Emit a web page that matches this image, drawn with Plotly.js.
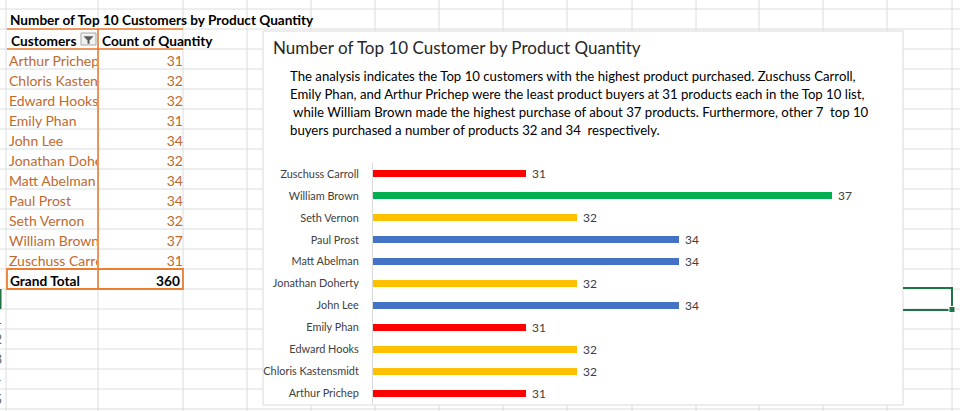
<!DOCTYPE html>
<html>
<head>
<meta charset="utf-8">
<script src="https://cdn.plot.ly/plotly-3.0.1.min.js"></script>
<style>html,body{margin:0;padding:0;background:#fff;}#chart{width:960px;height:411px;}</style>
</head>
<body>
<div id="chart"></div>
<script>
// ---------- data ----------
const customers = ['Arthur Prichep','Chloris Kastensmidt','Edward Hooks','Emily Phan','John Lee','Jonathan Doherty','Matt Abelman','Paul Prost','Seth Vernon','William Brown','Zuschuss Carroll'];
const quantities = [31,32,32,31,34,32,34,34,32,37,31];
const tableTitle = 'Number of Top 10 Customers by Product Quantity';
const tableHeaders = ['Customers','Count of Quantity'];
const totalLabel = 'Grand Total';
const chartTitle = 'Number of Top 10 Customer by Product Quantity';
const noteLines = [
  'The analysis indicates the Top 10 customers with the highest product purchased. Zuschuss Carroll,',
  'Emily Phan, and Arthur Prichep were the least product buyers at 31 products each in the Top 10 list,',
  '\u00a0while William Brown made the highest purchase of about 37 products. Furthermore, other 7\u00a0 top 10',
  'buyers purchased a number of products 32 and 34\u00a0 respectively.'
];
const rowNumbers = [20,21,22,23,24,25];

// ---------- helpers ----------
const W = 960, H = 411;
const px = v => v / W;
const py = v => 1 - v / H;
const FONT = 'Lato, "Open Sans", sans-serif';
const colorFor = {31:'#FF0000', 32:'#FFC000', 34:'#4472C4', 37:'#00B050'};
const ORANGE = '#ED7D31';
const GRID = '#DADCDD';

function line(x0,y0,x1,y1,color,width){
  return {type:'line', xref:'paper', yref:'paper', x0:px(x0), y0:py(y0), x1:px(x1), y1:py(y1),
          line:{color:color, width:width||1}, layer:'below'};
}
function rect(x0,y0,x1,y1,fill,lineColor,lw){
  return {type:'rect', xref:'paper', yref:'paper', x0:px(x0), y0:py(y0), x1:px(x1), y1:py(y1),
          fillcolor:fill, line:{color:lineColor||'rgba(0,0,0,0)', width:lw===undefined?1:lw}, layer:'below'};
}
function path(points, fill, lineColor, lw, closed){
  const d = points.map((p,i)=>(i?'L':'M')+px(p[0])+','+py(p[1])).join(' ') + (closed?' Z':'');
  return {type:'path', xref:'paper', yref:'paper', path:d, fillcolor:fill||'rgba(0,0,0,0)',
          line:{color:lineColor||'rgba(0,0,0,0)', width:lw||0}, layer:'below'};
}

// ---------- spreadsheet backdrop ----------
const shapes = [];
const colLines = [6,98,183,247,311,375,439,503,567,632,696,759,823,887,952];
const rowTop = 9, rowH = 20;
for (let k = 0; k <= 20; k++) shapes.push(line(0, rowTop + k*rowH, W, rowTop + k*rowH, GRID, 1));
colLines.forEach(x => shapes.push(line(x, 0, x, H, GRID, 1)));

// pivot table borders
shapes.push(line(7, 29, 183, 29, ORANGE, 1.6));
shapes.push(line(7, 49, 183, 49, ORANGE, 1.6));
shapes.push(line(98, 29, 98, 289, ORANGE, 1.6));
shapes.push(rect(7, 269, 183, 289, 'rgba(0,0,0,0)', ORANGE, 1.8));
// filter button
shapes.push(rect(81, 33, 96, 45, '#F2F2F2', '#A6A6A6', 1));
shapes.push(path([[84,36.5],[93,36.5],[89.3,40.5],[89.3,43.5],[87.8,43.5],[87.8,40.5]], '#595959', '#595959', 0.5, true));

// chart box
shapes.push(rect(263, 31, 903, 405, '#FFFFFF', '#D9D9D9', 1));

// selected cell
shapes.push(path([[903,288],[952,288],[952,310],[903,310]], 'rgba(0,0,0,0)', '#217346', 2, false));
shapes.push(rect(949, 306.5, 955, 312.5, '#217346', '#FFFFFF', 1));
shapes.push(line(0.5, 289, 0.5, 309, '#217346', 2));

// ---------- annotations ----------
const annotations = [];
// row numbers (mostly clipped by the left edge, as in the sheet)
rowNumbers.forEach((n, i) => {
  annotations.push({xref:'paper', yref:'paper', x:px(4), y:py(299 + i*rowH), xanchor:'right', yanchor:'middle',
    text:String(n), showarrow:false, font:{family:FONT, size:13, color: n===20 ? '#217346' : '#666666'}});
});
// pivot title + headers
annotations.push({xref:'paper', yref:'paper', x:px(8), y:py(20), xanchor:'left', yanchor:'middle',
  text:'<b>'+tableTitle+'</b>', showarrow:false, font:{family:FONT, size:13.6, color:'#000'}});
annotations.push({xref:'paper', yref:'paper', x:px(9), y:py(40), xanchor:'left', yanchor:'middle',
  text:'<b>'+tableHeaders[0]+'</b>', showarrow:false, font:{family:FONT, size:13.7, color:'#000'}});
annotations.push({xref:'paper', yref:'paper', x:px(100), y:py(40), xanchor:'left', yanchor:'middle',
  text:'<b>'+tableHeaders[1]+'</b>', showarrow:false, font:{family:FONT, size:13.7, color:'#000'}});
const total = quantities.reduce((a,b)=>a+b, 0);
annotations.push({xref:'paper', yref:'paper', x:px(8), y:py(280), xanchor:'left', yanchor:'middle',
  text:'<b>'+totalLabel+'</b>', showarrow:false, font:{family:FONT, size:13.7, color:'#000'}});
annotations.push({xref:'paper', yref:'paper', x:px(182), y:py(280), xanchor:'right', yanchor:'middle',
  text:'<b>'+total+'</b>', showarrow:false, font:{family:FONT, size:13.7, color:'#000'}});

// chart title and notes
annotations.push({xref:'paper', yref:'paper', x:px(271), y:py(48), xanchor:'left', yanchor:'middle',
  text:chartTitle, showarrow:false, font:{family:FONT, size:17, color:'#262626'}});
noteLines.forEach((t, i) => {
  annotations.push({xref:'paper', yref:'paper', x:px(288), y:py(76 + i*18), xanchor:'left', yanchor:'middle',
    text:t, showarrow:false, font:{family:FONT, size:13.2, color:'#000'}});
});

// bar value labels (data coordinates)
customers.forEach((c, i) => {
  annotations.push({xref:'x', yref:'y', x:quantities[i], y:c, xanchor:'left', yanchor:'middle', xshift:4,
    text:String(quantities[i]), showarrow:false, font:{family:FONT, size:12, color:'#404040'}});
});

// ---------- traces ----------
const bars = {
  type:'bar', orientation:'h', x:quantities, y:customers, xaxis:'x', yaxis:'y',
  width:0.32, marker:{color:quantities.map(q => colorFor[q]), line:{width:0}},
  hoverinfo:'skip'
};
const tableNames = {
  type:'scatter', mode:'text', x:customers.map(()=>0.022), y:customers, xaxis:'x2', yaxis:'y2',
  text:customers, textposition:'middle right', cliponaxis:true,
  textfont:{family:FONT, size:14, color:'#C0692F'}, hoverinfo:'skip'
};
const tableValues = {
  type:'scatter', mode:'text', x:customers.map(()=>1), y:customers, xaxis:'x3', yaxis:'y2',
  text:quantities.map(String), textposition:'middle left', cliponaxis:false,
  textfont:{family:FONT, size:14, color:'#C0692F'}, hoverinfo:'skip'
};

const hidden = {visible:false, fixedrange:true};
const layout = {
  width:W, height:H, margin:{l:0, r:0, t:0, b:0, pad:0},
  paper_bgcolor:'#FFFFFF', plot_bgcolor:'rgba(0,0,0,0)', showlegend:false,
  xaxis:{domain:[px(373), px(883)], range:[28, 38], showgrid:false, zeroline:false, showticklabels:false,
         showline:false, ticks:'', fixedrange:true, anchor:'y'},
  yaxis:{domain:[py(404), py(163)], type:'category', categoryorder:'array', categoryarray:customers,
         range:[-0.5, 10.5], showgrid:false, zeroline:false, showline:true, linecolor:'#D9D9D9', linewidth:1,
         ticks:'', ticklabelstandoff:11, tickfont:{family:FONT, size:10.9, color:'#404040'}, fixedrange:true, anchor:'x'},
  xaxis2:Object.assign({domain:[px(7), px(97)], range:[0,1], anchor:'y2'}, hidden),
  yaxis2:Object.assign({domain:[py(272), py(52)], type:'category', categoryorder:'array', categoryarray:customers,
         range:[10.5, -0.5], anchor:'x2'}, hidden),
  xaxis3:Object.assign({domain:[px(98), px(183)], range:[0,1], anchor:'y2'}, hidden),
  shapes:shapes, annotations:annotations, bargap:0
};

Plotly.newPlot('chart', [bars, tableNames, tableValues], layout, {staticPlot:true, displayModeBar:false});
</script>
</body>
</html>
